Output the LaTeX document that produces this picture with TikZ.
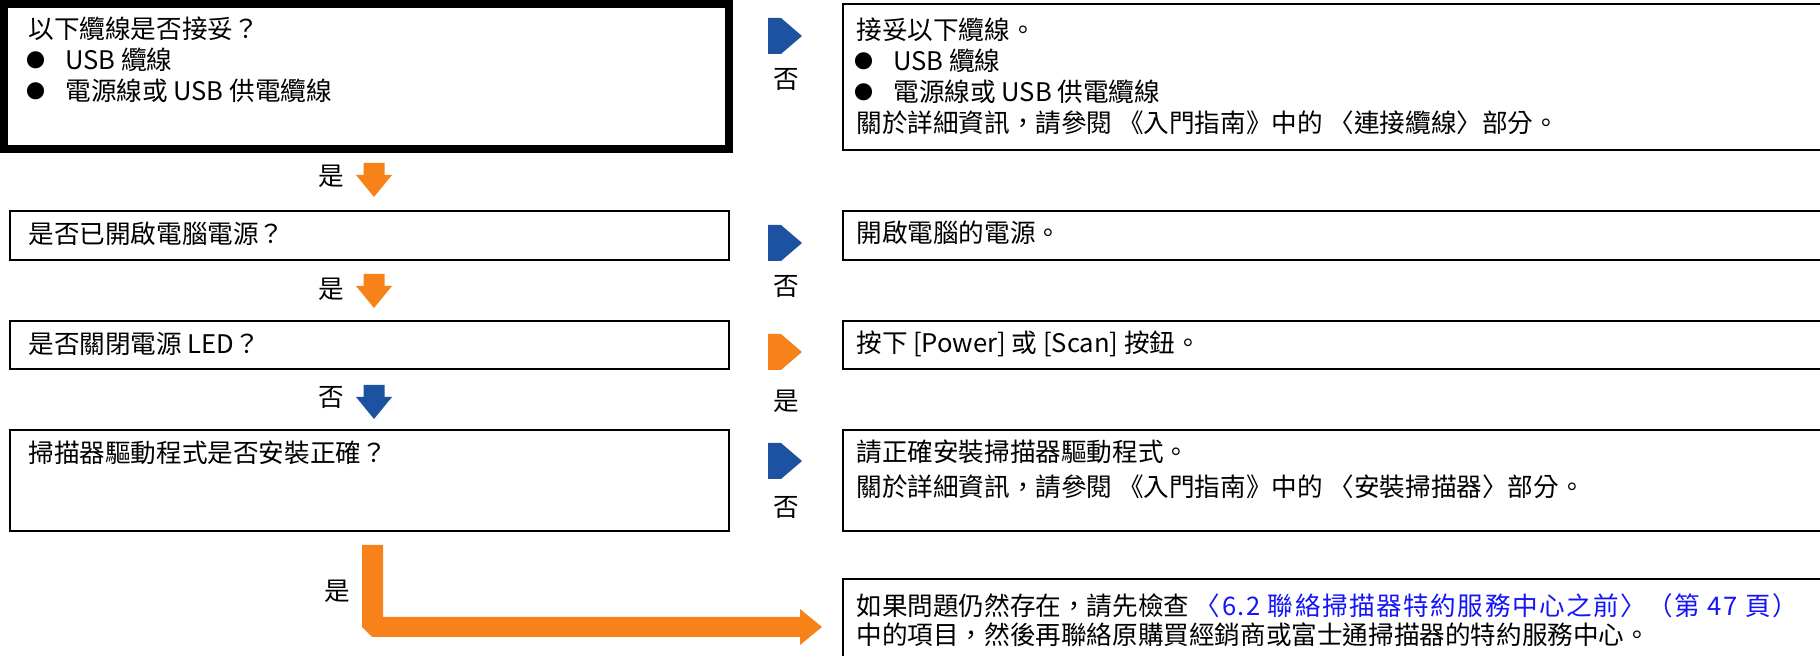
\documentclass[tikz,border=0pt]{standalone}
\usepackage{fontspec}
\setmainfont{Noto Sans CJK TC}
\definecolor{arrorange}{RGB}{247,130,26}
\definecolor{arrblue}{RGB}{29,82,160}
\definecolor{linkblue}{RGB}{20,20,250}
\newcommand\blt{\makebox[19.5pt][l]{\raisebox{1.2pt}{\fontsize{9.5}{9.5}\selectfont ●}}}
\begin{document}
\begin{tikzpicture}[x=0.5pt,y=-0.5pt,
  box/.style={draw=black,line width=1pt},
  thickbox/.style={draw=black,line width=4pt},
  txt/.style={inner sep=0pt,anchor=base west,font=\fontsize{12.8}{15.5}\selectfont},
  lbl/.style={inner sep=0pt,font=\fontsize{12.8}{15.5}\selectfont},
  downarr/.pic={\fill[pic actions] (-10.5,0) -- (10.5,0) -- (10.5,12) -- (18,12) -- (0,34) -- (-18,12) -- (-10.5,12) -- cycle;},
  rightarr/.pic={\fill[pic actions] (0,-18) -- (13,-18) -- (34,0) -- (13,18) -- (0,18) -- cycle;}]
\useasboundingbox (0,0) rectangle (1820,656);
% boxes
\draw[thickbox] (4,4) rectangle (729,149);
\draw[box] (843,4) rectangle (1830,150);
\draw[box] (10,211) rectangle (729,260);
\draw[box] (843,211) rectangle (1830,260);
\draw[box] (10,321) rectangle (729,369);
\draw[box] (843,321) rectangle (1830,369);
\draw[box] (10,430) rectangle (729,531);
\draw[box] (843,430) rectangle (1830,531);
\draw[box] (843,579) rectangle (1830,680);
% texts left
\node[txt] (q1a) at (28,39) {以下纜線是否接妥？};
\node[txt] (q1b) at (26,70) {\blt USB 纜線};
\node[txt] (q1c) at (26,101) {\blt 電源線或 USB 供電纜線};
\node[txt] (q2) at (28,244) {是否已開啟電腦電源？};
\node[txt] (q3) at (28,354) {是否關閉電源 LED？};
\node[txt] (q4) at (28,463) {掃描器驅動程式是否安裝正確？};
% texts right
\node[txt] (a1a) at (856,40) {接妥以下纜線。};
\node[txt] (a1b) at (854,71) {\blt USB 纜線};
\node[txt] (a1c) at (854,102) {\blt 電源線或 USB 供電纜線};
\node[txt] (a1d) at (856,133) {關於詳細資訊，請參閱 《入門指南》中的 〈連接纜線〉部分。};
\node[txt] (a2) at (856,243) {開啟電腦的電源。};
\node[txt] (a3) at (856,353) {按下 [Power] 或 [Scan] 按鈕。};
\node[txt] (a4a) at (856,462) {請正確安裝掃描器驅動程式。};
\node[txt] (a4b) at (856,497) {關於詳細資訊，請參閱 《入門指南》中的 〈安裝掃描器〉部分。};
\node[txt] (a5a) at (856,616) {如果問題仍然存在，請先檢查 \textcolor{linkblue}{\addfontfeature{LetterSpace=6}〈6.2 聯絡掃描器特約服務中心之前〉（第 47 頁）}};
\node[txt] (a5b) at (856,645) {中的項目，然後再聯絡原購買經銷商或富士通掃描器的特約服務中心。};
% down arrows
\pic[fill=arrorange] at (374,163) {downarr};
\pic[fill=arrorange] at (374,274) {downarr};
\pic[fill=arrblue] at (374,385) {downarr};
% right arrows
\pic[fill=arrblue] at (768,36) {rightarr};
\pic[fill=arrblue] at (768,243) {rightarr};
\pic[fill=arrorange] at (768,352) {rightarr};
\pic[fill=arrblue] at (768,461) {rightarr};
% L arrow
\fill[arrorange] (362,545) -- (383,545) -- (383,617) -- (800,617) -- (800,609) -- (822,627) -- (800,645) -- (800,637) -- (372,637) -- (362,627) -- cycle;
% labels
\node[lbl] (y1) at (331,176) {是};
\node[lbl] (y2) at (331,289) {是};
\node[lbl] (n3) at (331,398) {否};
\node[lbl] (y4) at (337,591) {是};
\node[lbl] (n1) at (786,80) {否};
\node[lbl] (n2) at (786,287) {否};
\node[lbl] (y3) at (786,401) {是};
\node[lbl] (n4) at (786,508) {否};
\end{tikzpicture}
\end{document}
